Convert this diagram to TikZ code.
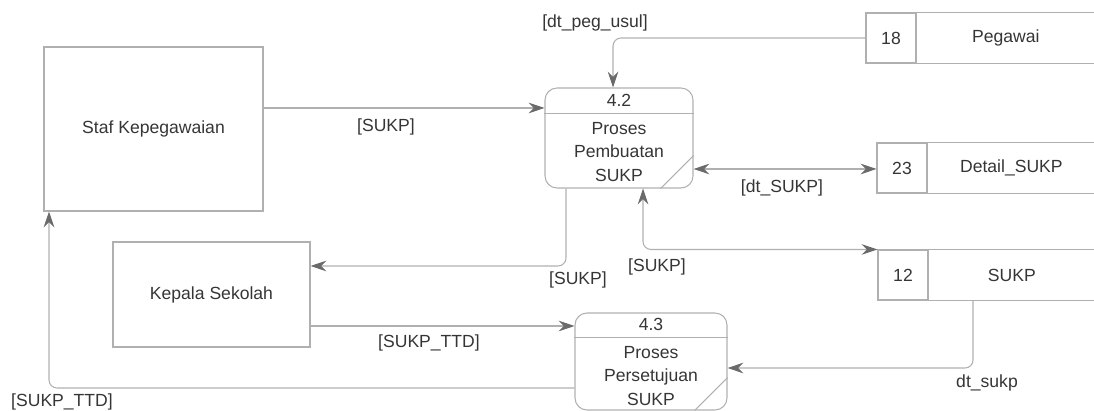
\documentclass[tikz,border=0pt]{standalone}
\usepackage{fontspec}
\setmainfont{Liberation Sans}
\usetikzlibrary{arrows.meta,positioning}
\definecolor{linegray}{HTML}{B0B0B0}
\definecolor{tipgray}{HTML}{6A6A6A}
\definecolor{textgray}{HTML}{353535}
\begin{document}
\begin{tikzpicture}[
                x=0.02cm, y=-0.02cm,
                every node/.style={text=textgray, font=\fontsize{10}{13.6}\selectfont},
                entity/.style={draw=linegray, line width=0.6pt, inner sep=0pt},
                proc/.style={draw=linegray, line width=0.6pt, rounded corners=0.24cm, inner sep=0pt},
                divider/.style={draw=linegray, line width=0.6pt},
                storenum/.style={draw=linegray, line width=0.6pt, minimum width=1cm, minimum height=1cm, inner sep=0pt},
                storename/.style={minimum height=1cm, inner sep=0pt},
                flow/.style={draw=linegray, line width=0.6pt, rounded corners=0.16cm, -{Stealth[length=9pt,width=6pt,inset=3pt,color=tipgray]}},
                flow2/.style={flow, {Stealth[length=9pt,width=6pt,inset=3pt,color=tipgray]}-{Stealth[length=9pt,width=6pt,inset=3pt,color=tipgray]}},
            ]
            \useasboundingbox (0,0) rectangle (1094,411);
            \node[entity, minimum width=4.38cm, minimum height=3.28cm] (staf) at (153.5,129) {Staf Kepegawaian};
            \node[entity, minimum width=3.94cm, minimum height=2.1cm] (kepsek) at (211.5,294.5) {Kepala Sekolah};

            \node[proc, minimum width=2.96cm, minimum height=2cm] (p42) at (619,138) {};
            \node (p42num) at (619,100) {4.2};
            \node[align=center] (p42txt) at (619,152) {Proses\\Pembuatan\\SUKP};
            \draw[divider] ([yshift=-0.52cm]p42.north west) -- ([yshift=-0.52cm]p42.north east);
            \draw[divider] ([yshift=0.66cm]p42.south east) -- ([xshift=-0.66cm]p42.south east);

            \node[proc, minimum width=3.04cm, minimum height=1.94cm] (p43) at (651,361.5) {};
            \node (p43num) at (651,324) {4.3};
            \node[align=center] (p43txt) at (651,376) {Proses\\Persetujuan\\SUKP};
            \draw[divider] ([yshift=-0.5cm]p43.north west) -- ([yshift=-0.5cm]p43.north east);
            \draw[divider] ([yshift=0.66cm]p43.south east) -- ([xshift=-0.66cm]p43.south east);

            \node[storenum] (s18) at (891,38) {18};
            \node[storename, minimum width=3.56cm, right=0pt of s18] (pegawai) {Pegawai};
            \node[storenum] (s23) at (902,168) {23};
            \node[storename, minimum width=3.34cm, right=0pt of s23] (detail) {Detail\_SUKP};
            \node[storenum] (s12) at (903,275) {12};
            \node[storename, minimum width=3.32cm, right=0pt of s12] (sukp) {SUKP};
            \foreach \s in {pegawai,detail,sukp}
                \draw[divider] (\s.north west) -- (\s.north east) (\s.south west) -- (\s.south east);

            \draw[flow] (staf.east |- 0,108) -- (p42.west |- 0,108);
            \draw[flow] (s18.west) -| ([xshift=-0.12cm]p42.north);
            \draw[flow2] (p42.east |- 0,169) -- (s23.west |- 0,169);
            \draw[flow] (p42.south -| 566,0) |- (kepsek.east |- 0,266);
            \draw[flow2] (p42.south -| 643,0) |- (s12.north west);
            \draw[flow] (kepsek.east |- 0,326) -- (p43.west |- 0,326);
            \draw[flow] (sukp.south -| 973,0) |- (p43.east |- 0,368);
            \draw[flow] (p43.west |- 0,388) -| (staf.south -| 49,0);

            \node (l1) at (386,127) {[SUKP]};
            \node (l2) at (595,23) {[dt\_peg\_usul]};
            \node (l3) at (782,188) {[dt\_SUKP]};
            \node (l4) at (578,280) {[SUKP]};
            \node (l5) at (657,267) {[SUKP]};
            \node (l6) at (429,343) {[SUKP\_TTD]};
            \node (l7) at (987,383) {dt\_sukp};
            \node (l8) at (62,402) {[SUKP\_TTD]};
            \end{tikzpicture}
\end{document}
